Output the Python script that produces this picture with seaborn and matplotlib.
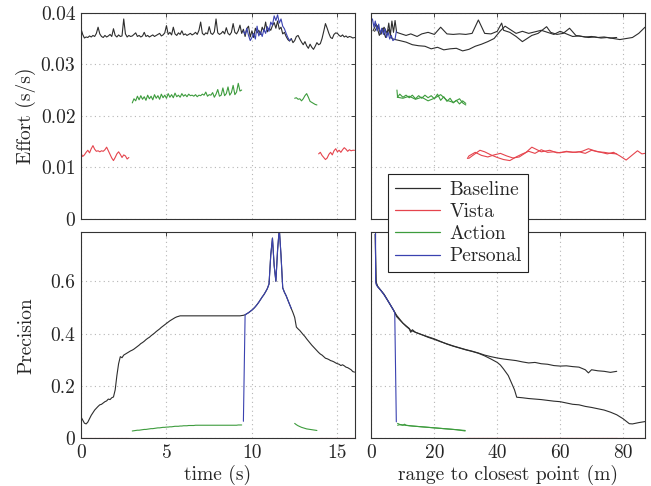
import numpy as np
import matplotlib
matplotlib.use("Agg")
import matplotlib.pyplot as plt
import seaborn as sns
from matplotlib.lines import Line2D

# ——— Series colours ———
colors = {"Baseline": "#2d2d2d", "Vista": "#e5444d",
          "Action": "#3d9c3d", "Personal": "#3a42b0"}
modes = ["Baseline", "Vista", "Action", "Personal"]

# ——— Time-domain data (0.1 s samples) ———
time_s = np.round(np.arange(161) * 0.1, 1)

# effort in ms per s
base_effort_ms = [
    36.9, 35.8, 35.1, 35.3, 35.2, 35.5, 35.3, 35.6, 35.4, 36.0,
    37.2, 35.9, 35.4, 35.2, 35.6, 35.3, 35.5, 35.8, 35.4, 36.9,
    35.6, 35.3, 35.7, 35.4, 35.5, 38.8, 35.9, 35.3, 35.6, 35.4,
    35.5, 35.8, 36.1, 35.4, 35.6, 35.3, 35.5, 36.2, 35.4, 35.6,
    35.3, 35.5, 35.7, 35.4, 35.6, 35.8, 36.0, 35.5, 35.7, 36.1,
    37.5, 35.8, 36.2, 35.7, 37.2, 35.9, 35.6, 36.1, 35.8, 36.5,
    35.7, 35.9, 35.6, 35.8, 36.0, 35.7, 35.9, 36.2, 35.8, 36.6,
    38.2, 36.0, 35.7, 36.1, 35.9, 37.3, 36.0, 35.8, 36.3, 38.8,
    36.1, 35.8, 36.0, 36.4, 35.9, 37.1, 36.0, 35.7, 36.2, 37.9,
    36.2, 35.9, 36.5, 37.6, 36.0, 36.8, 35.4, 36.9, 37.4, 35.3,
    36.5, 35.2, 37.0, 36.1, 36.6, 35.8, 37.2, 36.4, 38.2, 36.3,
    37.0, 36.6, 37.5, 38.1, 37.0, 38.4, 36.8, 37.2, 35.9, 36.2,
    35.4, 34.8, 34.5, 35.0, 34.2, 34.6, 35.4, 35.6, 34.9, 34.3,
    33.8, 34.4, 33.6, 33.1, 33.9, 33.3, 32.9, 33.5, 34.2, 33.8,
    34.0, 35.0, 36.4, 37.9, 37.0, 36.0, 35.2, 35.0, 35.8, 36.1,
    36.0, 35.6, 35.4, 35.7, 35.3, 35.5, 35.2, 35.4, 35.3, 35.1,
    35.2]
vista1_effort_ms = [
    12.7, 12.1, 12.4, 12.9, 13.3, 12.8, 13.6, 14.2, 13.5, 13.1,
    13.2, 13.0, 13.2, 13.1, 13.4, 13.9, 13.2, 12.5, 11.8, 11.3,
    11.9, 12.6, 13.0, 12.5, 11.9, 12.4, 12.2, 11.6, 11.9]
vista2_effort_ms = [
    12.6, 12.9, 12.3, 11.9, 11.5, 11.8, 12.5, 12.9, 12.4, 13.2,
    13.6, 13.0, 13.3, 12.9, 13.4, 13.8, 13.5, 13.1, 13.4, 13.2,
    13.3, 13.3]
action1_effort_ms = [
    22.5, 23.3, 22.9, 23.8, 23.1, 23.9, 23.2, 23.7, 23.0, 24.0,
    23.3, 23.8, 23.1, 24.1, 23.4, 23.9, 23.2, 24.2, 23.5, 24.0,
    23.4, 24.3, 23.6, 24.1, 23.5, 24.4, 23.7, 24.0, 23.6, 24.3,
    23.8, 24.1, 23.7, 24.2, 23.9, 24.0, 23.8, 24.1, 23.7, 24.0,
    23.9, 24.2, 24.0, 24.6, 23.8, 24.1, 24.0, 24.5, 23.6, 24.2,
    25.1, 23.8, 24.0, 25.4, 23.9, 24.3, 25.6, 24.0, 24.5, 25.9,
    24.1, 24.6, 26.3, 24.8, 25.0]
action2_effort_ms = [23.4, 23.5, 23.2, 23.3, 22.9, 23.3, 23.9, 24.3, 23.6,
                     22.8, 22.6, 22.4, 22.2, 22.1]
personal_effort_ms = [
    36.4, 35.8, 37.0, 35.6, 34.6, 35.2, 36.0, 34.9, 37.4, 35.5,
    36.3, 35.4, 36.8, 36.0, 37.3, 36.4, 38.2, 37.6, 39.4, 38.5,
    39.6, 38.0, 38.8, 37.4, 36.9, 36.0, 35.2, 34.6, 34.9]

base_precision = [
    0.082, 0.070, 0.058, 0.055, 0.062, 0.075, 0.088, 0.098, 0.108, 0.115,
    0.122, 0.128, 0.130, 0.135, 0.140, 0.143, 0.150, 0.148, 0.155, 0.158,
    0.185, 0.240, 0.285, 0.312, 0.308, 0.318, 0.322, 0.326, 0.330, 0.334,
    0.337, 0.341, 0.346, 0.351, 0.356, 0.362, 0.366, 0.371, 0.377, 0.382,
    0.386, 0.392, 0.397, 0.402, 0.408, 0.413, 0.418, 0.424, 0.429, 0.434,
    0.439, 0.444, 0.449, 0.453, 0.457, 0.461, 0.464, 0.466, 0.468, 0.468,
    0.468, 0.468, 0.468, 0.468, 0.468, 0.468, 0.468, 0.468, 0.468, 0.468,
    0.468, 0.468, 0.468, 0.468, 0.468, 0.468, 0.468, 0.468, 0.468, 0.468,
    0.468, 0.468, 0.468, 0.468, 0.468, 0.468, 0.468, 0.468, 0.468, 0.468,
    0.468, 0.468, 0.468, 0.468, 0.469, 0.470, 0.472, 0.476, 0.480, 0.485,
    0.490, 0.496, 0.503, 0.511, 0.520, 0.530, 0.540, 0.549, 0.560, 0.572,
    0.590, 0.700, 0.765, 0.660, 0.600, 0.720, 0.800, 0.700, 0.575, 0.558,
    0.545, 0.528, 0.512, 0.496, 0.480, 0.462, 0.425, 0.418, 0.412, 0.404,
    0.396, 0.389, 0.380, 0.372, 0.364, 0.356, 0.349, 0.342, 0.335, 0.328,
    0.322, 0.318, 0.312, 0.306, 0.304, 0.301, 0.297, 0.295, 0.292, 0.288,
    0.285, 0.283, 0.278, 0.281, 0.277, 0.272, 0.270, 0.266, 0.262, 0.255,
    0.253]
action1_precision = [
    0.028, 0.029, 0.030, 0.031, 0.031, 0.032, 0.033, 0.034, 0.034, 0.035,
    0.036, 0.037, 0.037, 0.038, 0.039, 0.040, 0.040, 0.041, 0.042, 0.042,
    0.043, 0.043, 0.044, 0.044, 0.045, 0.046, 0.046, 0.046, 0.047, 0.047,
    0.048, 0.048, 0.048, 0.049, 0.049, 0.049, 0.049, 0.050, 0.050, 0.050,
    0.050, 0.050, 0.050, 0.050, 0.050, 0.050, 0.050, 0.050, 0.050, 0.050,
    0.050, 0.050, 0.050, 0.050, 0.050, 0.050, 0.050, 0.050, 0.050, 0.050,
    0.050, 0.050, 0.051, 0.051, 0.051]
action2_precision = [0.057, 0.052, 0.048, 0.045, 0.042, 0.040, 0.038, 0.036,
                     0.035, 0.034, 0.033, 0.032, 0.031, 0.030]
personal_precision = [
    0.065, 0.472, 0.476, 0.480, 0.485, 0.490, 0.496, 0.503, 0.511, 0.520,
    0.530, 0.540, 0.549, 0.560, 0.572, 0.590, 0.700, 0.765, 0.660, 0.600,
    0.720, 0.800, 0.700, 0.575, 0.558, 0.545, 0.528, 0.512, 0.496]

# segment start times (s)
vista1_t0, vista2_t0 = 0.0, 13.9
action1_t0, action2_t0 = 3.0, 12.5
personal_t0 = 9.5

# ——— Range-domain data (approach: far -> near, depart: near -> far) ———
base_app_r = [87, 85, 83, 81, 79, 77, 75, 73, 71, 69, 67, 65, 63, 61, 59, 57,
              55.7, 53, 51, 48, 46, 44, 42, 41.4, 40, 38, 36, 34, 32, 30, 28,
              26, 24, 22, 20, 18, 16, 14.5, 12.5, 11, 9, 8, 7.5, 7, 6.5, 6,
              5.5, 5, 4, 3, 2, 1]
base_app_effort_ms = [37.2, 36.0, 35.2, 35.0, 34.8, 35.0, 35.2, 35.1, 35.3,
                      35.2, 35.4, 35.6, 37.0, 36.0, 35.8, 36.2, 37.3, 36.0,
                      35.6, 34.4, 35.4, 36.2, 36.6, 38.0, 36.4, 35.9, 36.0,
                      38.6, 36.0, 35.8, 35.9, 35.8, 35.9, 37.2, 35.8, 36.2,
                      35.9, 35.4, 35.9, 35.6, 36.0, 36.2, 38.5, 36.2, 38.4,
                      35.6, 38.0, 36.0, 37.2, 35.8, 37.5, 36.4]
base_dep_r = [0.5, 1.5, 2.5, 3.5, 4.5, 5.5, 6.5, 7.5, 9, 11, 13, 15, 17, 19,
              21, 23, 25, 27, 29, 31, 33, 35, 37, 39, 41, 42.5, 44, 46, 48,
              50, 52, 54, 56, 58, 60, 62, 64, 66, 68, 70, 72, 74, 76, 78]
base_dep_effort_ms = [36.5, 37.8, 35.6, 37.0, 35.2, 36.8, 35.0, 34.8, 34.6,
                      34.3, 33.8, 33.6, 33.5, 33.0, 33.3, 32.8, 33.0, 33.1,
                      32.6, 32.9, 33.5, 33.9, 34.4, 35.0, 36.5, 37.4, 36.8,
                      36.0, 36.4, 36.0, 36.3, 36.6, 36.2, 35.8, 36.4, 35.9,
                      35.4, 35.5, 35.3, 35.4, 35.2, 35.3, 35.1, 35.2]
personal_r = [0.3, 0.8, 1.2, 1.8, 2.3, 2.8, 3.3, 3.8, 4.3, 4.8, 5.3, 5.8, 6.3,
              6.8, 7.5, 7.9]
personal_r_effort_ms = [38.8, 37.2, 38.4, 36.5, 37.8, 36.0, 37.0, 35.8, 36.9,
                        35.2, 36.2, 34.9, 35.6, 34.6, 34.9, 36.4]
action_app_r = [30, 29, 28, 27, 26, 25, 24, 23, 22, 21, 20, 19, 18, 17, 16,
                15, 14, 13, 12, 11, 10, 9, 8.3, 8.1]
action_app_effort_ms = [22.4, 22.9, 22.3, 23.0, 22.5, 23.4, 22.8, 23.7, 23.0,
                        24.2, 23.3, 23.9, 23.5, 24.0, 23.4, 23.9, 23.3, 24.0,
                        23.5, 24.0, 23.6, 24.2, 23.6, 25.0]
action_dep_r = [8.2, 10, 12, 14, 16, 18, 20, 22, 24, 26, 28, 29, 30]
action_dep_effort_ms = [23.6, 23.4, 23.8, 23.2, 23.6, 22.9, 23.4, 24.1, 23.0,
                        22.6, 23.3, 22.5, 22.1]
vista_app_r = [87, 86, 84.6, 83, 81, 79, 77, 75, 73, 71, 69, 67, 65, 62, 59,
               56.7, 54, 51, 49, 47, 45, 43, 41, 39, 37, 35, 33, 31, 30.5]
vista_app_effort_ms = [12.7, 12.6, 13.2, 12.4, 11.4, 12.2, 12.9, 12.6, 12.9,
                       13.2, 13.6, 13.1, 12.9, 13.0, 12.8, 13.3, 13.0, 13.9,
                       12.8, 12.0, 11.8, 12.2, 12.7, 12.4, 12.0, 12.3, 12.9,
                       12.2, 11.7]
vista_dep_r = [30.9, 32, 34.5, 36, 38, 40, 42, 44, 46, 48, 50, 52, 54, 56, 58,
               60, 62, 64, 66, 68, 70, 72, 74, 76, 78]
vista_dep_effort_ms = [11.7, 12.2, 13.3, 13.0, 12.4, 11.9, 11.5, 11.3, 12.0,
                       12.6, 13.1, 12.7, 13.4, 12.9, 13.0, 12.8, 13.1, 12.9,
                       13.0, 12.7, 13.3, 13.0, 12.9, 12.7, 12.6]

base_app_pr_r = [87, 85, 83, 82, 80, 78, 76, 74, 72, 70, 68, 66, 64, 62, 60,
                 58, 56, 54, 52, 50, 48, 46.2, 45.5, 44.6, 43.5, 42, 41, 40,
                 38, 36, 34, 32, 30, 28, 26, 24, 22, 20, 18, 16, 14, 12.4, 12,
                 11, 10, 9, 8, 7, 6, 5, 4, 3, 2, 1.5, 1.3, 1.2]
base_app_precision = [0.064, 0.060, 0.055, 0.056, 0.075, 0.090, 0.100, 0.108,
                      0.113, 0.118, 0.122, 0.128, 0.130, 0.135, 0.140, 0.142,
                      0.145, 0.148, 0.150, 0.152, 0.155, 0.157, 0.185, 0.210,
                      0.240, 0.265, 0.280, 0.290, 0.303, 0.315, 0.325, 0.332,
                      0.338, 0.345, 0.352, 0.360, 0.370, 0.380, 0.388, 0.396,
                      0.405, 0.413, 0.420, 0.430, 0.440, 0.452, 0.465, 0.490,
                      0.510, 0.530, 0.550, 0.565, 0.580, 0.590, 0.700, 0.780]
base_dep_pr_r = [1.2, 1.4, 2, 3, 4, 5, 6, 7, 8, 9, 10, 11, 12, 12.5, 13, 14,
                 16, 18, 20, 22, 24, 26, 28, 30, 32, 34, 36, 38, 40, 42, 44,
                 46, 48, 50, 52, 54, 56, 58, 60, 62, 64, 66, 68, 69, 70, 72,
                 74, 76, 78]
base_dep_precision = [0.780, 0.600, 0.580, 0.565, 0.550, 0.530, 0.510, 0.490,
                      0.470, 0.455, 0.440, 0.428, 0.418, 0.405, 0.415, 0.405,
                      0.396, 0.386, 0.378, 0.369, 0.361, 0.353, 0.346, 0.339,
                      0.333, 0.326, 0.318, 0.312, 0.307, 0.303, 0.300, 0.297,
                      0.292, 0.288, 0.290, 0.285, 0.283, 0.278, 0.276, 0.277,
                      0.274, 0.272, 0.262, 0.250, 0.262, 0.258, 0.256, 0.252,
                      0.256]
personal_pr_r = [1.3, 1.3, 1.6, 2, 3, 4, 5, 6, 7, 7.4, 7.9]
personal_r_precision = [0.800, 0.600, 0.585, 0.578, 0.565, 0.548, 0.530,
                        0.510, 0.490, 0.480, 0.063]
action_app_pr_r = [8.3, 9, 10, 10.5, 11, 13, 15, 18, 21, 24, 27, 29.8]
action_app_precision = [0.050, 0.052, 0.050, 0.054, 0.050, 0.047, 0.045,
                        0.042, 0.039, 0.036, 0.033, 0.028]
action_dep_pr_r = [8.3, 9, 10, 12, 14, 17, 20, 23, 26, 29.8]
action_dep_precision = [0.057, 0.053, 0.051, 0.048, 0.046, 0.043, 0.040,
                        0.037, 0.034, 0.030]
vista_pr_r = [30, 87]
vista_pr_r2 = [30, 78]
vista_r_precision = [0.0, 0.0]


def seg(t0, n):
    i0 = int(round(t0 * 10))
    return time_s[i0:i0 + n]


def ms(v):
    return np.asarray(v) / 1000.0


# ——— Style ———
sns.set_style("white")
plt.rcParams.update({
    "font.family": ["cmr10", "DejaVu Serif"],
    "mathtext.fontset": "cm",
    "axes.formatter.use_mathtext": True,
    "font.size": 14,
    "axes.edgecolor": "#333333",
    "axes.linewidth": 0.8,
})

fig, axes = plt.subplots(2, 2, figsize=(6.51, 4.86), dpi=100)
fig.subplots_adjust(left=0.1244, right=0.9908, bottom=0.0981, top=0.9737,
                    wspace=0.062, hspace=0.066)
ax_te, ax_re = axes[0]
ax_tp, ax_rp = axes[1]


def line(ax, x, y, mode):
    sns.lineplot(x=np.asarray(x, dtype=float), y=np.asarray(y, dtype=float),
                 ax=ax, color=colors[mode], lw=0.8, estimator=None,
                 sort=False, legend=False)


# effort vs time
line(ax_te, time_s, ms(base_effort_ms), "Baseline")
line(ax_te, seg(vista1_t0, len(vista1_effort_ms)), ms(vista1_effort_ms), "Vista")
line(ax_te, seg(vista2_t0, len(vista2_effort_ms)), ms(vista2_effort_ms), "Vista")
line(ax_te, seg(action1_t0, len(action1_effort_ms)), ms(action1_effort_ms), "Action")
line(ax_te, seg(action2_t0, len(action2_effort_ms)), ms(action2_effort_ms), "Action")
line(ax_te, seg(personal_t0, len(personal_effort_ms)), ms(personal_effort_ms), "Personal")

# precision vs time
line(ax_tp, time_s, base_precision, "Baseline")
line(ax_tp, seg(vista1_t0, len(vista1_effort_ms)), np.zeros(len(vista1_effort_ms)), "Vista")
line(ax_tp, seg(vista2_t0, len(vista2_effort_ms)), np.zeros(len(vista2_effort_ms)), "Vista")
line(ax_tp, seg(action1_t0, len(action1_precision)), action1_precision, "Action")
line(ax_tp, seg(action2_t0, len(action2_precision)), action2_precision, "Action")
line(ax_tp, seg(personal_t0, len(personal_precision)), personal_precision, "Personal")

# effort vs range
line(ax_re, base_app_r, ms(base_app_effort_ms), "Baseline")
line(ax_re, base_dep_r, ms(base_dep_effort_ms), "Baseline")
line(ax_re, vista_app_r, ms(vista_app_effort_ms), "Vista")
line(ax_re, vista_dep_r, ms(vista_dep_effort_ms), "Vista")
line(ax_re, action_app_r, ms(action_app_effort_ms), "Action")
line(ax_re, action_dep_r, ms(action_dep_effort_ms), "Action")
line(ax_re, personal_r, ms(personal_r_effort_ms), "Personal")

# precision vs range
line(ax_rp, base_app_pr_r, base_app_precision, "Baseline")
line(ax_rp, base_dep_pr_r, base_dep_precision, "Baseline")
line(ax_rp, vista_pr_r, vista_r_precision, "Vista")
line(ax_rp, vista_pr_r2, vista_r_precision, "Vista")
line(ax_rp, action_app_pr_r, action_app_precision, "Action")
line(ax_rp, action_dep_pr_r, action_dep_precision, "Action")
line(ax_rp, personal_pr_r, personal_r_precision, "Personal")

# ——— Axes cosmetics ———
effort_ticks = [0, 0.01, 0.02, 0.03, 0.04]
effort_labels = ["0", "0.01", "0.02", "0.03", "0.04"]
prec_ticks = [0, 0.2, 0.4, 0.6]
prec_labels = ["0", "0.2", "0.4", "0.6"]
time_ticks = [0, 5, 10, 15]
range_ticks = [0, 20, 40, 60, 80]

for ax in axes.flat:
    ax.grid(True, ls=(0, (1, 3)), color="#b5b5b5", lw=0.8)
    ax.tick_params(direction="in", length=3, width=0.6, top=True,
                   right=True, labelsize=14, pad=4)
    ax.set_xlabel("")
    ax.set_ylabel("")
    for s in ax.spines.values():
        s.set_visible(True)

for ax in (ax_te, ax_re):
    ax.set_ylim(0, 0.04)
    ax.set_yticks(effort_ticks)
for ax in (ax_tp, ax_rp):
    ax.set_ylim(0, 0.787)
    ax.set_yticks(prec_ticks)
for ax in (ax_te, ax_tp):
    ax.set_xlim(0, 16)
    ax.set_xticks(time_ticks)
for ax in (ax_re, ax_rp):
    ax.set_xlim(0, 87)
    ax.set_xticks(range_ticks)

ax_te.set_yticklabels(effort_labels)
ax_tp.set_yticklabels(prec_labels)
ax_tp.set_xticklabels([str(v) for v in time_ticks])
ax_rp.set_xticklabels([str(v) for v in range_ticks])
for ax in (ax_te, ax_re):
    ax.tick_params(labelbottom=False)
for ax in (ax_re, ax_rp):
    ax.tick_params(labelleft=False)

ax_te.set_ylabel("Effort (s/s)", fontsize=14)
ax_tp.set_ylabel("Precision", fontsize=14)
for ax in (ax_te, ax_tp):
    ax.yaxis.set_label_coords(-0.165, 0.5)
ax_tp.set_xlabel("time (s)", fontsize=14, labelpad=2)
ax_rp.set_xlabel("range to closest point (m)", fontsize=14, labelpad=2)

handles = [Line2D([], [], color=colors[m], lw=0.9) for m in modes]
leg = fig.legend(handles, modes, loc="upper left",
                 bbox_to_anchor=(388 / 651, 1 - 174 / 486),
                 frameon=True, fancybox=False, framealpha=1,
                 edgecolor="#222222", borderaxespad=0, fontsize=14,
                 handlelength=2.3, labelspacing=0.22, borderpad=0.35,
                 handletextpad=0.5)
leg.get_frame().set_linewidth(0.8)

fig.savefig("out.png", dpi=100)
